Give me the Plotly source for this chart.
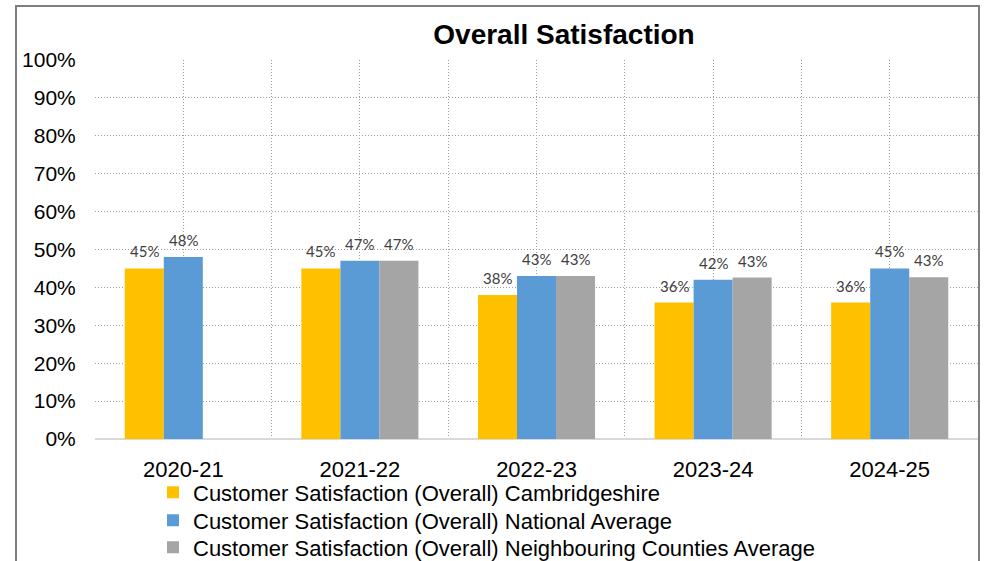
import plotly.graph_objects as go

# ---- data ----
years = ["2020-21", "2021-22", "2022-23", "2023-24", "2024-25"]
cambridgeshire = [45, 45, 38, 36, 36]
national = [48, 47, 43, 42, 45]
neighbouring = [None, 47, 43, 42.6, 42.7]
series_names = [
    "Customer Satisfaction (Overall) Cambridgeshire",
    "Customer Satisfaction (Overall) National Average",
    "Customer Satisfaction (Overall) Neighbouring Counties Average",
]
colors = ["#FFC000", "#5B9BD5", "#A5A5A5"]
y_ticks = list(range(0, 101, 10))
y_labels = [f"{v}%" for v in y_ticks]

# ---- layout constants ----
W, H = 989, 561
L, R, T, B = 95, 11, 60, 122
bargap = 0.337
pw, ph = W - L - R, H - T - B
legend_ids = ["legend", "legend2", "legend3"]
legend_tops = [471.5, 499.5, 526.5]   # pixel rows of the legend entries

xs = list(range(len(years)))
fig = go.Figure()
all_series = [cambridgeshire, national, neighbouring]
for name, vals, col, lid in zip(series_names, all_series, colors, legend_ids):
    fig.add_trace(go.Bar(x=xs, y=vals, name=name, marker_color=col,
                         marker_line_width=0, hoverinfo="skip", legend=lid))

# data labels
w = (1 - bargap) / 3
for j, vals in enumerate(all_series):
    for i, v in enumerate(vals):
        if v is None:
            continue
        fig.add_annotation(x=i + (j - 1) * w, y=v, xref="x", yref="y",
                           text=f"{round(v)}%", showarrow=False,
                           yanchor="bottom", yshift=6,
                           font=dict(family="Lato", size=15, color="#404040"))

legend_style = dict(orientation="v", x=(153 - L) / pw, xanchor="left", yanchor="top",
                    font=dict(family="Liberation Sans", size=22, color="#000000"),
                    bgcolor="rgba(0,0,0,0)", itemclick=False, itemdoubleclick=False)
legends = {lid: dict(legend_style, y=(H - B - top) / ph)
           for lid, top in zip(legend_ids, legend_tops)}

grid_col = "#a0a0a0"
dash = "1px,2px"
fig.update_layout(
    width=W, height=H,
    margin=dict(l=L, r=R, t=T, b=B, autoexpand=False),
    paper_bgcolor="white", plot_bgcolor="white",
    barmode="group", bargap=bargap, bargroupgap=0,
    font=dict(family="Liberation Sans", color="#000000"),
    title=dict(text="<b>Overall Satisfaction</b>", x=564 / W, xanchor="center",
               y=1 - 34 / H, yanchor="middle",
               font=dict(family="Liberation Sans", size=28, color="#000000")),
    showlegend=True,
    xaxis=dict(range=[-0.5, len(years) - 0.5], tickvals=xs, ticktext=years,
               showgrid=True, gridcolor=grid_col, griddash=dash, gridwidth=1,
               ticks="outside", ticklen=11, tickcolor="rgba(0,0,0,0)",
               tickfont=dict(family="Liberation Sans", size=22, color="#000000"),
               minor=dict(tick0=-0.5, dtick=1, showgrid=True, gridcolor=grid_col,
                          griddash=dash, gridwidth=1),
               showline=False, zeroline=False, fixedrange=True),
    yaxis=dict(range=[0, 100], tickvals=y_ticks, ticktext=y_labels,
               showgrid=True, gridcolor=grid_col, griddash=dash, gridwidth=1,
               zeroline=True, zerolinecolor="#d9d9d9", zerolinewidth=2,
               ticks="outside", ticklen=14, tickcolor="rgba(0,0,0,0)",
               tickfont=dict(family="Liberation Sans", size=21, color="#000000"),
               showline=False, fixedrange=True),
    **legends,
)

# chart frame
fig.add_shape(type="rect", xref="paper", yref="paper",
              x0=(16 - L) / pw, x1=(979 - L) / pw,
              y0=(H - B - 600) / ph, y1=(H - B - 6) / ph,
              line=dict(color="#7f7f7f", width=2), fillcolor="rgba(0,0,0,0)",
              layer="above")

fig.write_html("out.html", config={"displayModeBar": False})
